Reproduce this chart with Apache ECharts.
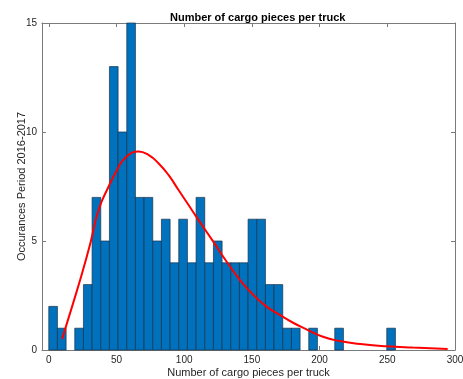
<!DOCTYPE html>
<html>
<head>
<meta charset="utf-8">
<script src="https://cdn.jsdelivr.net/npm/echarts@6/dist/echarts.min.js"></script>
<style>html,body{margin:0;padding:0;background:#fff}#c{width:463px;height:379px}</style>
</head>
<body>
<div id="c"></div>
<script>
// Histogram bin edges (left edges) and counts
const binStarts = [0, 6.4, 12.8, 19.2, 25.6, 32, 38.4, 44.8, 51.2, 57.6, 64, 70.4, 76.8, 83.2, 89.6, 96, 102.4, 108.8, 115.2, 121.6, 128, 134.4, 140.8, 147.2, 153.6, 160, 166.4, 172.8, 179.2, 185.6, 192, 198.4, 204.8, 211.2, 217.6, 224, 230.4, 236.8, 243.2, 249.6];
const binWidth = 6.4;
const counts = [2, 1, 0, 1, 3, 7, 5, 13, 10, 15, 7, 7, 5, 6, 4, 6, 4, 7, 4, 5, 4, 4, 4, 6, 6, 3, 3, 1, 1, 0, 1, 0, 0, 1, 0, 0, 0, 0, 0, 1];
// Fitted curve
const fitX = [9.8, 17.2, 24.6, 30.7, 36.8, 44.2, 50.4, 56.2, 66.3, 73.6, 81.0, 88.4, 95.7, 103.1, 110.5, 121.5, 131.4, 141.2, 151.0, 160.8, 170.6, 180.4, 190.3, 202.5, 214.8, 232.0, 249.2, 268.8, 294.6];
const fitY = [0.50, 1.99, 3.52, 4.90, 6.43, 7.50, 8.26, 8.80, 9.11, 8.95, 8.57, 8.03, 7.35, 6.66, 5.97, 4.97, 4.05, 3.21, 2.53, 1.99, 1.61, 1.25, 0.95, 0.61, 0.41, 0.26, 0.17, 0.11, 0.05];
const xTicks = [0, 50, 100, 150, 200, 250, 300];
const yTicks = [0, 5, 10, 15];

const FONT = 'Liberation Sans';
const TXT = '#262626';
const AX = '#7a7a7a';

const histData = binStarts.map((s, i) => [s, s + binWidth, counts[i]]).filter(d => d[2] > 0);

const chart = echarts.init(document.getElementById('c'), null, {renderer: 'canvas'});
const frameX = (pos, labels) => ({
  type: 'value', position: pos, min: -5, max: 300,
  axisLine: {show: true, onZero: false, lineStyle: {color: AX, width: 1}},
  axisTick: {show: true, inside: true, length: 4, customValues: xTicks, lineStyle: {color: AX}},
  axisLabel: {show: labels, customValues: xTicks, color: TXT, fontFamily: FONT, fontSize: 10, margin: 5},
  splitLine: {show: false}
});
const frameY = (pos, labels) => ({
  type: 'value', position: pos, min: 0, max: 15, interval: 5,
  axisLine: {show: true, onZero: false, lineStyle: {color: AX, width: 1}},
  axisTick: {show: true, inside: true, length: 4, lineStyle: {color: AX}},
  axisLabel: {show: labels, color: TXT, fontFamily: FONT, fontSize: 10, margin: 5},
  splitLine: {show: false}
});
const xa0 = frameX('bottom', true);
xa0.name = 'Number of cargo pieces per truck';
xa0.nameLocation = 'middle';
xa0.nameGap = 17;
xa0.nameMoveOverlap = false;
xa0.nameTextStyle = {color: TXT, fontFamily: FONT, fontSize: 11};
const ya0 = frameY('left', true);
ya0.name = 'Occurances Period 2016-2017';
ya0.nameLocation = 'middle';
ya0.nameGap = 15;
ya0.nameMoveOverlap = false;
ya0.nameTextStyle = {color: TXT, fontFamily: FONT, fontSize: 11};

chart.setOption({
  animation: false,
  title: {
    text: 'Number of cargo pieces per truck',
    left: 165, top: 7,
    textStyle: {color: '#000', fontFamily: FONT, fontSize: 11, fontWeight: 'bold'}
  },
  grid: {left: 42, right: 8, top: 23, bottom: 29, containLabel: false, outerBoundsMode: 'none'},
  xAxis: [xa0, frameX('top', false)],
  yAxis: [ya0, frameY('right', false)],
  series: [
    {
      type: 'custom',
      xAxisIndex: 0, yAxisIndex: 0,
      data: histData,
      renderItem: function (params, api) {
        const p0 = api.coord([api.value(0), 0]);
        const p1 = api.coord([api.value(1), api.value(2)]);
        return {
          type: 'rect',
          shape: {x: p0[0], y: p1[1], width: p1[0] - p0[0], height: p0[1] - p1[1]},
          style: {fill: '#0072BD', stroke: '#17324a', lineWidth: 0.7}
        };
      },
      encode: {x: [0, 1], y: 2},
      z: 2
    },
    {
      type: 'line',
      xAxisIndex: 0, yAxisIndex: 0,
      data: fitX.map((x, i) => [x, fitY[i]]),
      smooth: true,
      showSymbol: false,
      lineStyle: {color: '#FF0000', width: 2},
      z: 3
    }
  ]
});
</script>
</body>
</html>
